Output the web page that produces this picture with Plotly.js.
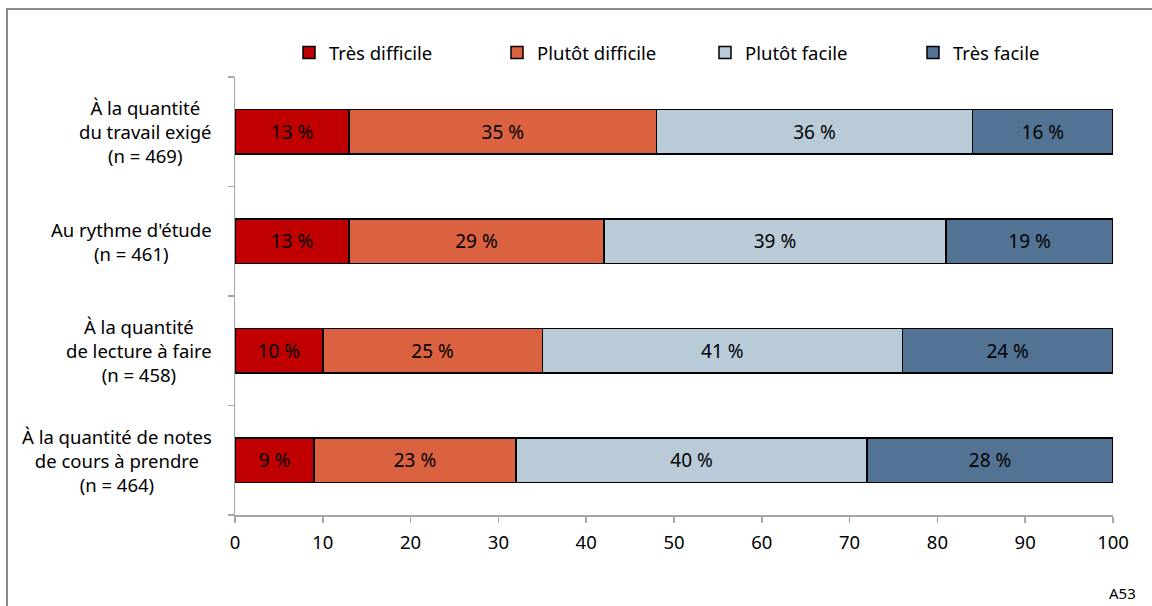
<!DOCTYPE html>
<html>
<head>
<meta charset="utf-8">
<script src="https://cdn.plot.ly/plotly-3.0.1.min.js"></script>
<style>
html,body{margin:0;padding:0;background:#fff;}
#chart{width:1152px;height:606px;}
</style>
</head>
<body>
<div id="chart"></div>
<script>
const categories = ["quantite_travail", "rythme", "lecture", "notes"];
const categoryLabels = [
  "À la quantité<br>du travail exigé<br>(n = 469)",
  "Au rythme d'étude<br>(n = 461)",
  "À la quantité<br>de lecture à faire<br>(n = 458)",
  "À la quantité de notes<br>de cours à prendre<br>(n = 464)"
];
const seriesNames = ["Très difficile", "Plutôt difficile", "Plutôt facile", "Très facile"];
const tresDifficile = [13, 13, 10, 9];
const plutotDifficile = [35, 29, 25, 23];
const plutotFacile = [36, 39, 41, 40];
const tresFacile = [16, 19, 24, 28];
const xTicks = [0, 10, 20, 30, 40, 50, 60, 70, 80, 90, 100];
const colors = ["#C00000", "#DA6240", "#B9CBD9", "#537394"];

const FONT = "Noto Sans, DejaVu Sans, sans-serif";
const values = [tresDifficile, plutotDifficile, plutotFacile, tresFacile];

const traces = values.map((v, i) => ({
  type: "bar",
  orientation: "h",
  name: seriesNames[i],
  y: categories,
  x: v,
  marker: {color: colors[i], line: {color: "#000000", width: 1.5}},
  texttemplate: "%{x} %",
  textposition: "inside",
  insidetextanchor: "middle",
  constraintext: "none",
  textfont: {family: FONT, size: 19, color: "#000000"},
  hoverinfo: "skip"
}));

const annotations = categories.map((c, i) => ({
  xref: "paper", yref: "y",
  x: -0.024, y: c,
  xanchor: "right", yanchor: "middle",
  align: "center",
  text: categoryLabels[i],
  showarrow: false,
  font: {family: FONT, size: 18.5, color: "#000000"}
}));
annotations.push({
  xref: "paper", yref: "paper",
  x: 1.0285, y: -0.178,
  xanchor: "right", yanchor: "middle",
  text: "A53", showarrow: false,
  font: {family: FONT, size: 15, color: "#000000"}
});

const layout = {
  width: 1152, height: 606,
  margin: {l: 235, r: 39, t: 77, b: 91},
  paper_bgcolor: "#ffffff",
  plot_bgcolor: "#ffffff",
  barmode: "stack",
  bargap: 0.59,
  showlegend: true,
  legend: {
    orientation: "h",
    x: 0.0615, xanchor: "left",
    y: 1.055, yanchor: "middle",
    entrywidth: 163, entrywidthmode: "pixels",
    font: {family: FONT, size: 18.5, color: "#000000"},
    traceorder: "normal",
    itemwidth: 30
  },
  xaxis: {
    range: [0, 100],
    tickvals: xTicks,
    ticktext: xTicks.map(String),
    showgrid: false, zeroline: false,
    showline: true, linecolor: "#A6A6A6", linewidth: 1.5,
    ticks: "outside", ticklen: 6, tickcolor: "#A6A6A6", tickwidth: 1.5,
    ticklabelstandoff: 4,
    tickfont: {family: FONT, size: 18.5, color: "#000000"},
    fixedrange: true
  },
  yaxis: {
    type: "category",
    categoryorder: "array",
    categoryarray: categories.slice().reverse(),
    range: [-0.5, 3.5],
    showticklabels: false,
    showgrid: false, zeroline: false,
    showline: true, linecolor: "#A6A6A6", linewidth: 1.5,
    ticks: "outside", tickson: "boundaries", ticklen: 6, tickcolor: "#A6A6A6", tickwidth: 1.5,
    fixedrange: true
  },
  annotations: annotations,
  shapes: [{
    type: "rect", xref: "paper", yref: "paper",
    x0: -0.2597, x1: 1.2, y0: -0.4, y1: 1.155,
    line: {color: "#8C8C8C", width: 2},
    fillcolor: "rgba(0,0,0,0)",
    layer: "below"
  }]
};

Plotly.newPlot("chart", traces, layout, {displayModeBar: false, staticPlot: true});
</script>
</body>
</html>
